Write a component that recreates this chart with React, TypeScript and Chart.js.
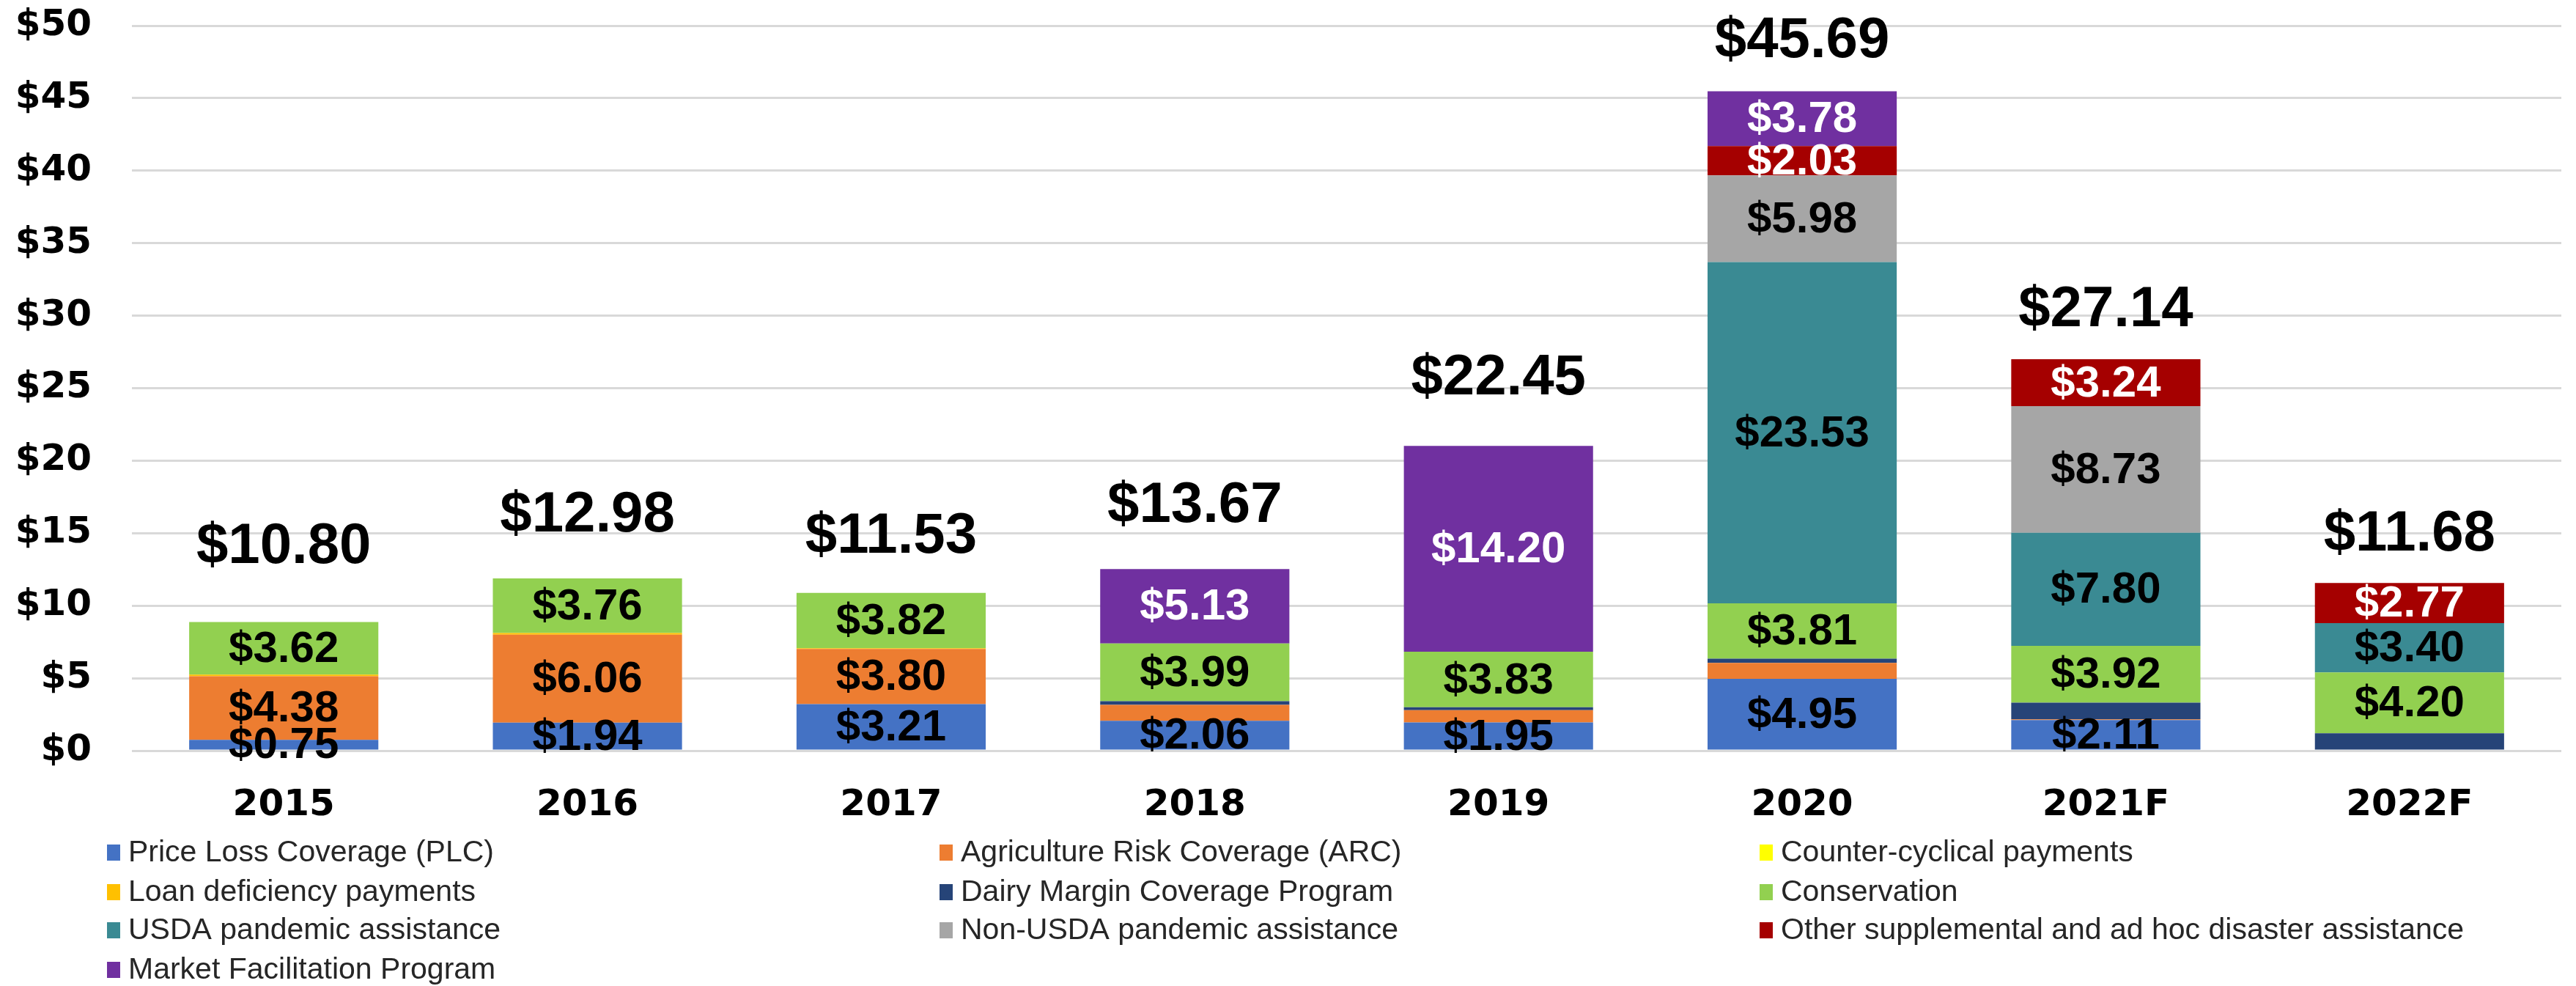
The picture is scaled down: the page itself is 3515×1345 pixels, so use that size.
import React, { useEffect, useRef } from "react";
import { Chart, registerables } from "chart.js";

Chart.register(...registerables);

// ---------- DATA ----------
const categories = ["2015", "2016", "2017", "2018", "2019", "2020", "2021F", "2022F"];

const seriesNames = [
  "Price Loss Coverage (PLC)",
  "Agriculture Risk Coverage (ARC)",
  "Counter-cyclical payments",
  "Loan deficiency payments",
  "Dairy Margin Coverage Program",
  "Conservation",
  "USDA pandemic assistance",
  "Non-USDA pandemic assistance",
  "Other supplemental and ad hoc disaster assistance",
  "Market Facilitation Program",
];

const seriesColors = [
  "#4472C4",
  "#ED7D31",
  "#FFFF00",
  "#FFC000",
  "#264478",
  "#92D050",
  "#3A8A93",
  "#A6A6A6",
  "#A50000",
  "#7030A0",
];

const labelColors = ["#000", "#000", "#000", "#000", "#000", "#000", "#000", "#000", "#fff", "#fff"];
const labeledSeries = [true, true, false, false, false, true, true, true, true, true];

const plc = [0.75, 1.94, 3.21, 2.06, 1.95, 4.95, 2.11, 0];
const arc = [4.38, 6.06, 3.8, 1.1, 0.84, 1.1, 0.05, 0];
const counterCyclical = [0, 0, 0, 0, 0, 0, 0, 0];
const loanDeficiency = [0.12, 0.12, 0.05, 0, 0, 0, 0, 0];
const dairyMargin = [0, 0, 0, 0.25, 0.2, 0.3, 1.15, 1.2];
const conservation = [3.62, 3.76, 3.82, 3.99, 3.83, 3.81, 3.92, 4.2];
const usdaPandemic = [0, 0, 0, 0, 0, 23.53, 7.8, 3.4];
const nonUsdaPandemic = [0, 0, 0, 0, 0, 5.98, 8.73, 0];
const otherSupplemental = [0, 0, 0, 0, 0, 2.03, 3.24, 2.77];
const marketFacilitation = [0, 0, 0, 5.13, 14.2, 3.78, 0, 0];

const totals = [10.8, 12.98, 11.53, 13.67, 22.45, 45.69, 27.14, 11.68];

const yMin = 0;
const yMax = 50;
const yStep = 5;

const seriesValues = [
  plc,
  arc,
  counterCyclical,
  loanDeficiency,
  dairyMargin,
  conservation,
  usdaPandemic,
  nonUsdaPandemic,
  otherSupplemental,
  marketFacilitation,
];

// ---------- PLUGINS ----------
const segmentLabelPlugin = {
  id: "segmentLabels",
  afterDatasetsDraw(chart: any) {
    const ctx = chart.ctx;
    ctx.save();
    ctx.font = "bold 60px 'Liberation Sans', Arial, sans-serif";
    ctx.textAlign = "center";
    ctx.textBaseline = "middle";
    chart.data.datasets.forEach((ds: any, i: number) => {
      if (!labeledSeries[i]) return;
      const meta = chart.getDatasetMeta(i);
      meta.data.forEach((bar: any, j: number) => {
        const v = ds.data[j];
        if (!v) return;
        if (v < 1.5 && i !== 0) return;
        const cy = (bar.y + bar.base) / 2;
        ctx.fillStyle = labelColors[i];
        ctx.fillText("$" + v.toFixed(2), bar.x, cy + 2);
      });
    });
    // totals
    const yScale = chart.scales.y;
    const meta0 = chart.getDatasetMeta(0);
    ctx.font = "bold 78px 'Liberation Sans', Arial, sans-serif";
    ctx.textBaseline = "alphabetic";
    ctx.fillStyle = "#000";
    totals.forEach((t, j) => {
      const x = meta0.data[j].x;
      const y = yScale.getPixelForValue(t) - 42;
      ctx.fillText("$" + t.toFixed(2), x, y);
    });
    ctx.restore();
  },
};

const legendPlugin = {
  id: "customLegend",
  afterDraw(chart: any) {
    const ctx = chart.ctx;
    const colX = [146, 1282, 2401];
    const rowY = [1163, 1217, 1269, 1323];
    ctx.save();
    ctx.font = "41px 'Liberation Sans', Arial, sans-serif";
    ctx.textBaseline = "middle";
    ctx.textAlign = "left";
    seriesNames.forEach((name, i) => {
      const col = i % 3;
      const row = Math.floor(i / 3);
      const x = colX[col];
      const y = rowY[row];
      ctx.fillStyle = seriesColors[i];
      ctx.fillRect(x, y - 11, 18, 22);
      ctx.fillStyle = "#262626";
      ctx.fillText(name, x + 29, y + 1);
    });
    ctx.restore();
  },
};

// ---------- COMPONENT ----------
export default function App() {
  const canvasRef = useRef<HTMLCanvasElement | null>(null);

  useEffect(() => {
    if (!canvasRef.current) return;
    const chart = new Chart(canvasRef.current, {
      type: "bar",
      data: {
        labels: categories,
        datasets: seriesNames.map((name, i) => ({
          label: name,
          data: seriesValues[i],
          backgroundColor: seriesColors[i],
          borderWidth: 0,
          barPercentage: 0.623,
          categoryPercentage: 1,
        })),
      },
      options: {
        responsive: false,
        animation: false,
        devicePixelRatio: 1,
        layout: { padding: { top: 35, right: 20, bottom: 0, left: 0 } },
        plugins: {
          legend: { display: false },
          tooltip: { enabled: false },
          title: { display: false },
        },
        scales: {
          x: {
            stacked: true,
            grid: { display: false, drawTicks: false },
            border: { display: false },
            ticks: {
              color: "#000",
              padding: 45,
              font: { family: "'DejaVu Sans', sans-serif", weight: "bold", size: 50 },
            },
            afterFit(scale: any) {
              scale.height = 321;
            },
          },
          y: {
            stacked: true,
            min: yMin,
            max: yMax,
            grid: { color: "#d9d9d9", lineWidth: 3, drawTicks: false },
            border: { display: false },
            ticks: {
              stepSize: yStep,
              color: "#000",
              padding: 55,
              font: { family: "'DejaVu Sans', sans-serif", weight: "bold", size: 50 },
              callback: (v: any) => "$" + v,
            },
            afterFit(scale: any) {
              scale.width = 180;
              scale.paddingTop = 0;
              scale.paddingBottom = 0;
            },
          },
        },
      },
      plugins: [segmentLabelPlugin, legendPlugin],
    });
    return () => chart.destroy();
  }, []);

  return (
    <div style={{ position: "absolute", left: 0, top: 0, width: 3515, height: 1345, background: "#fff" }}>
      <canvas ref={canvasRef} width={3515} height={1345} style={{ width: 3515, height: 1345 }} />
    </div>
  );
}
